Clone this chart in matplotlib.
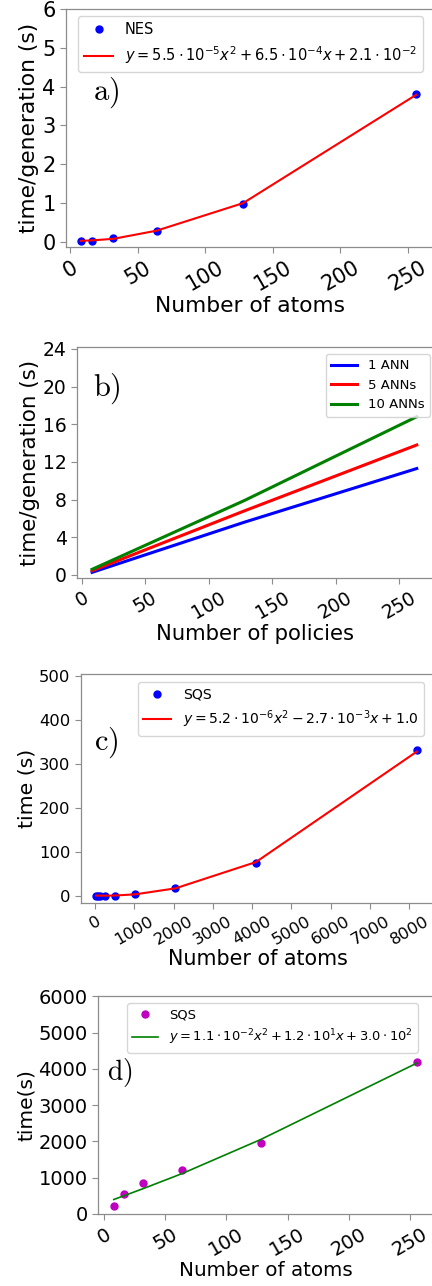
import matplotlib
matplotlib.use("Agg")
import matplotlib.pyplot as plt

# a) NES time per generation
atoms_a = [8, 16, 32, 64, 128, 256]
time_a = [0.02, 0.03, 0.09, 0.28, 0.99, 3.8]
fit_a = [0.03, 0.04, 0.08, 0.29, 1.0, 3.79]

# b) time per generation vs policies
policies = [8, 128, 264]
ann1 = [0.28, 5.6, 11.3]
ann5 = [0.45, 6.8, 13.8]
ann10 = [0.6, 7.9, 16.8]

# c) SQS large
atoms_c = [32, 64, 128, 256, 512, 1024, 2048, 4096, 8192]
time_c = [0.1, 0.2, 0.3, 0.5, 1.0, 4.5, 18.5, 75.5, 331]
fit_c = [0.9, 0.85, 0.7, 0.65, 1.0, 3.7, 17.3, 77, 328]

# d) SQS small
atoms_d = [8, 16, 32, 64, 128, 256]
time_d = [211, 551, 855, 1204, 1948, 4200]
fit_d = [395, 495, 695, 1113, 2050, 4165]

W, H = 432, 1286
fig = plt.figure(figsize=(W / 100, H / 100), dpi=100)


def make_ax(left, top, bottom, right=434):
    return fig.add_axes([left / W, 1 - bottom / H, (right - left) / W, (bottom - top) / H])


def style(ax, tick_fs):
    for s in ax.spines.values():
        s.set_color("#8c8c8c")
        s.set_linewidth(0.9)
    ax.spines["right"].set_visible(False)
    ax.tick_params(colors="#8c8c8c", labelcolor="black", labelsize=tick_fs, length=4)
    for lab in ax.get_xticklabels():
        lab.set_rotation(30)


def panel_label(ax, s, x, y, fs):
    ax.text(x, y, r"$\mathrm{%s)}$" % s, transform=ax.transAxes, fontsize=fs,
            math_fontfamily="cm", va="baseline", ha="left")


# panel a
ax = make_ax(66, 9, 247)
ax.plot(atoms_a, time_a, "o", color="b", ms=5, label="NES")
ax.plot(atoms_a, fit_a, "-", color="r", lw=1.5,
        label=r"$y = 5.5\cdot10^{-5}x^2 + 6.5\cdot10^{-4}x + 2.1\cdot10^{-2}$")
ax.set_xlim(-2.96, 269.2)
ax.set_ylim(-0.13, 6.0)
ax.set_xticks(range(0, 251, 50))
ax.set_yticks(range(0, 7))
style(ax, 15)
ax.set_xlabel("Number of atoms", fontsize=15.7, labelpad=1)
ax.set_ylabel("time/generation (s)", fontsize=15.7, labelpad=2)
ax.legend(loc="upper left", bbox_to_anchor=(0.033, 0.97), borderaxespad=0, fontsize=10.5)
panel_label(ax, "a", 0.073, 0.618, 22)

# panel b
ax = make_ax(77, 347, 578)
ax.plot(policies, ann1, color="b", lw=2.2, label="1 ANN")
ax.plot(policies, ann5, color="r", lw=2.2, label="5 ANNs")
ax.plot(policies, ann10, color="g", lw=2.2, label="10 ANNs")
ax.set_xlim(-3.9, 277.6)
ax.set_ylim(-0.32, 24.2)
ax.set_xticks(range(0, 251, 50))
ax.set_yticks(range(0, 25, 4))
style(ax, 13.5)
ax.set_xlabel("Number of policies", fontsize=15.2, labelpad=1)
ax.set_ylabel("time/generation (s)", fontsize=15.4, labelpad=2)
ax.legend(loc="upper left", bbox_to_anchor=(0.697, 0.97), borderaxespad=0, fontsize=9.5)
panel_label(ax, "b", 0.045, 0.788, 22)

# panel c
ax = make_ax(81, 674, 903)
ax.plot(atoms_c, time_c, "o", color="b", ms=5, label="SQS")
ax.plot(atoms_c, fit_c, "-", color="r", lw=1.5,
        label=r"$y = 5.2\cdot10^{-6}x^2 - 2.7\cdot10^{-3}x + 1.0$")
ax.set_xlim(-356, 8626)
ax.set_ylim(-16, 504)
ax.set_xticks(range(0, 8001, 1000))
ax.set_yticks(range(0, 501, 100))
style(ax, 11.8)
ax.set_xlabel("Number of atoms", fontsize=14.9, labelpad=1)
ax.set_ylabel("time (s)", fontsize=14.7, labelpad=2)
ax.legend(loc="upper left", bbox_to_anchor=(0.161, 0.965), borderaxespad=0, fontsize=10.1)
panel_label(ax, "c", 0.037, 0.668, 22)

# panel d
ax = make_ax(98, 996, 1214)
ax.plot(atoms_d, time_d, "o", color="m", ms=5, label="SQS")
ax.plot(atoms_d, fit_d, "-", color="g", lw=1.2,
        label=r"$y = 1.1\cdot10^{-2}x^2 + 1.2\cdot10^{1}x + 3.0\cdot10^{2}$")
ax.set_xlim(-4.9, 269.6)
ax.set_ylim(-5, 6010)
ax.set_xticks(range(0, 251, 50))
ax.set_yticks(range(0, 6001, 1000))
style(ax, 14)
ax.set_xlabel("Number of atoms", fontsize=14.3, labelpad=1)
ax.set_ylabel("time(s)", fontsize=14.5, labelpad=2)
ax.legend(loc="upper left", bbox_to_anchor=(0.086, 0.968), borderaxespad=0, fontsize=9.4)
panel_label(ax, "d", 0.027, 0.615, 20)

fig.savefig("out.png", dpi=100)
